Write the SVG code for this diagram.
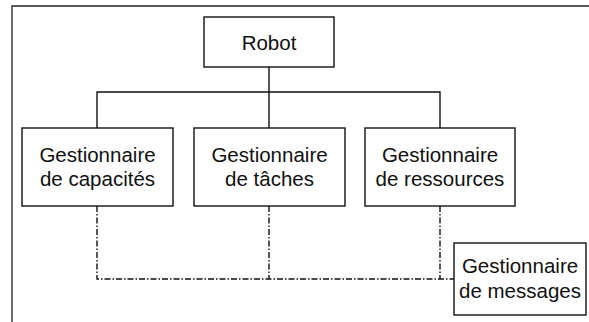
<svg xmlns="http://www.w3.org/2000/svg" width="589" height="322" viewBox="0 0 589 322">
  <style>
    .box { fill: #fff; stroke: #111; stroke-width: 1.4; }
    .lbl { font-family: "Liberation Sans", Arial, sans-serif; font-size: 20.5px; fill: #111; text-anchor: middle; }
    .solid { fill: none; stroke: #111; stroke-width: 1.4; }
    .dashdot { fill: none; stroke: #111; stroke-width: 1.4; stroke-dasharray: 6 2 1.5 2; }
    .frame { fill: none; stroke: #222; stroke-width: 1.3; }
  </style>
  <rect width="589" height="322" fill="#fff"/>

  <!-- outer frame (top and left edges) -->
  <path class="frame" d="M12,322 V6 H589"/>

  <!-- connectors -->
  <g id="connectors">
    <path class="solid" d="M269,67 V92"/>
    <path class="solid" d="M97,128 V92 H440 V128"/>
    <path class="solid" d="M269,92 V128"/>
    <path class="dashdot" d="M97,206 V279 H454"/>
    <path class="dashdot" d="M269,206 V279"/>
    <path class="dashdot" d="M440,206 V279"/>
  </g>

  <g id="robot">
    <rect class="box" x="204" y="17" width="130" height="50"/>
    <text class="lbl" x="269" y="50">Robot</text>
  </g>

  <g id="gestionnaire-capacites">
    <rect class="box" x="22" y="128" width="151" height="78"/>
    <text class="lbl" x="97.5" y="162">Gestionnaire</text>
    <text class="lbl" x="97.5" y="186">de capacités</text>
  </g>

  <g id="gestionnaire-taches">
    <rect class="box" x="194" y="128" width="151" height="78"/>
    <text class="lbl" x="269.5" y="162">Gestionnaire</text>
    <text class="lbl" x="269.5" y="186">de tâches</text>
  </g>

  <g id="gestionnaire-ressources">
    <rect class="box" x="365" y="128" width="150" height="78"/>
    <text class="lbl" x="440" y="162">Gestionnaire</text>
    <text class="lbl" x="440" y="186">de ressources</text>
  </g>

  <g id="gestionnaire-messages">
    <rect class="box" x="454" y="243" width="132" height="72"/>
    <text class="lbl" x="520" y="273">Gestionnaire</text>
    <text class="lbl" x="520" y="298">de messages</text>
  </g>
</svg>
